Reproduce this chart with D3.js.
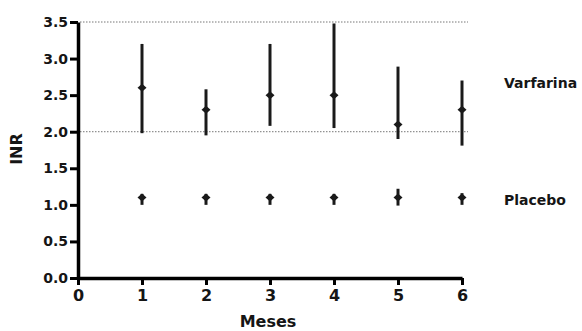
<!DOCTYPE html>
<html>
<head>
<meta charset="utf-8">
<script src="https://cdn.jsdelivr.net/npm/d3@7"></script>
<style>
  body { margin: 0; background: #fff; }
  svg text { font-family: "DejaVu Sans", sans-serif; font-weight: bold; fill: #151515; }
</style>
</head>
<body>
<svg id="chart" width="582" height="331"></svg>
<script>
// months on the x axis
var months = [1, 2, 3, 4, 5, 6];

// Varfarina: mean and range
var varMean = [2.6, 2.3, 2.5, 2.5, 2.1, 2.3];
var varLow  = [1.98, 1.95, 2.08, 2.05, 1.9, 1.81];
var varHigh = [3.2, 2.58, 3.2, 3.48, 2.89, 2.7];

// Placebo: mean and range
var plaMean = [1.1, 1.1, 1.1, 1.1, 1.1, 1.1];
var plaLow  = [1.0, 1.0, 1.0, 1.0, 0.99, 1.0];
var plaHigh = [1.15, 1.15, 1.15, 1.15, 1.22, 1.16];

// therapeutic range lines
var refLines = [2.0, 3.5];

var yTicks = [0, 0.5, 1, 1.5, 2, 2.5, 3, 3.5];
var xTicks = [0, 1, 2, 3, 4, 5, 6];

var svg = d3.select('#chart');

var x = d3.scaleLinear().domain([0, 6]).range([78, 462]);
var y = d3.scaleLinear().domain([0, 3.5]).range([278, 22]);

// dotted reference lines
svg.selectAll('line.ref')
    .data(refLines)
    .enter().append('line')
    .attr('class', 'ref')
    .attr('x1', x(0) + 2)
    .attr('x2', x(6) + 6)
    .attr('y1', function(d){ return y(d); })
    .attr('y2', function(d){ return y(d); })
    .attr('stroke', '#777')
    .attr('stroke-width', 1)
    .attr('stroke-dasharray', '1.5,1.5');

// axes
var yAxis = d3.axisLeft(y).tickValues(yTicks).tickSize(8).tickSizeOuter(0).tickPadding(2)
    .tickFormat(d3.format('.1f'));
var xAxis = d3.axisBottom(x).tickValues(xTicks).tickSize(7).tickSizeOuter(0).tickPadding(5)
    .tickFormat(d3.format('d'));

var gy = svg.append('g').attr('transform', 'translate(' + x(0) + ',0)').call(yAxis);
var gx = svg.append('g').attr('transform', 'translate(0,' + y(0) + ')').call(xAxis);

[gy, gx].forEach(function(g){
    g.select('.domain').attr('stroke', '#000').attr('stroke-width', 3.5);
    g.selectAll('.tick line').attr('stroke', '#000').attr('stroke-width', 3);
});
gy.selectAll('.tick text').style('font-size', '14px').attr('fill', '#151515');
gx.selectAll('.tick text').style('font-size', '16px').attr('fill', '#151515');

// error bars + diamond markers
function drawSeries(mean, low, high) {
    var g = svg.append('g');
    g.selectAll('line.err')
        .data(months)
        .enter().append('line')
        .attr('x1', function(d){ return x(d); })
        .attr('x2', function(d){ return x(d); })
        .attr('y1', function(d, i){ return y(low[i]); })
        .attr('y2', function(d, i){ return y(high[i]); })
        .attr('stroke', '#1a1a1a')
        .attr('stroke-width', 3);
    g.selectAll('path.pt')
        .data(months)
        .enter().append('path')
        .attr('d', 'M0,-4 L4.5,0 L0,4 L-4.5,0 Z')
        .attr('transform', function(d, i){ return 'translate(' + x(d) + ',' + y(mean[i]) + ')'; })
        .attr('fill', '#1a1a1a');
}
drawSeries(varMean, varLow, varHigh);
drawSeries(plaMean, plaLow, plaHigh);

// series labels
svg.append('text').attr('x', 504).attr('y', 88).style('font-size', '14px').text('Varfarina');
svg.append('text').attr('x', 504).attr('y', 205).style('font-size', '14px').text('Placebo');

// axis titles
svg.append('text')
    .attr('x', (x(0) + x(6)) / 2 - 2)
    .attr('y', 327)
    .attr('text-anchor', 'middle')
    .style('font-size', '16px')
    .text('Meses');

svg.append('text')
    .attr('transform', 'translate(22,149) rotate(-90)')
    .attr('text-anchor', 'middle')
    .style('font-size', '16px')
    .text('INR');
</script>
</body>
</html>
